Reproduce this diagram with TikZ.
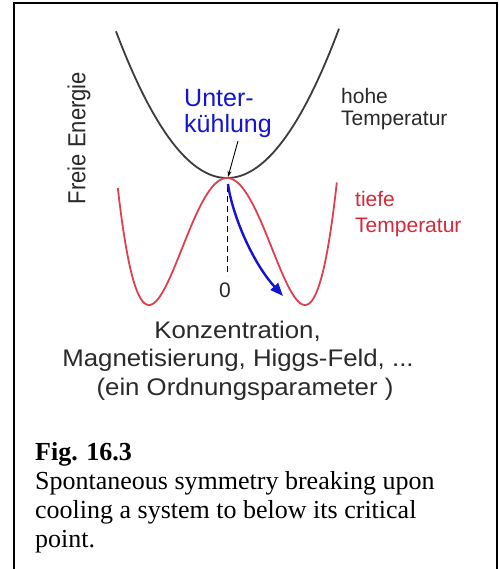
\documentclass[tikz,border=0pt]{standalone}
\usepackage{fontspec}
\setmainfont{Liberation Serif}
\newfontfamily\arial{Liberation Sans}
\usetikzlibrary{arrows.meta}
\definecolor{curvegray}{HTML}{3C3C3C}
\definecolor{textgray}{HTML}{2A2A2A}
\definecolor{curvered}{HTML}{E0404E}
\definecolor{textred}{HTML}{D42A3A}
\definecolor{myblue}{HTML}{1414D2}
\begin{document}
\begin{tikzpicture}[x=1pt,y=-1pt,
  lbl/.style={font=\arial\fontsize{21}{22}\selectfont, inner sep=0pt},
  axislbl/.style={font=\arial\fontsize{24}{26}\selectfont, inner sep=0pt, anchor=base, textgray, xscale=1.075, transform shape},
  captext/.style={font=\fontsize{26}{29}\selectfont, inner sep=0pt, anchor=base west}]
\useasboundingbox (0,0) rectangle (498,569);
\fill[white] (0,0) rectangle (498,569);
\draw[line width=2pt] (14,575) -- (14,3) -- (497,3) -- (497,575);
% curves
\draw[curvegray, line width=1.8pt] plot[domain=-111:112, samples=120, smooth] ({227+\x},{178-0.0119*\x*\x});
\draw[curvered, line width=1.8pt] plot[domain=-1.40:1.41, samples=150, smooth] ({227+78*\x},{305-127*(\x*\x-1)^2});
% coordinates
\coordinate (top) at (227,178);
\coordinate (arrS) at (238,141);
\coordinate (arrE) at (228,177);
\coordinate (bS) at (228,184);
\coordinate (bE) at (283,296);
\coordinate (dS) at (227,186);
\coordinate (dE) at (227,276);
% dashed zero line
\draw[black, line width=1pt, dash pattern=on 6pt off 4pt] (dS) -- (dE);
% arrows
\draw[black, line width=0.9pt, -{Stealth[length=6pt,width=4pt]}] (arrS) -- (arrE);
\draw[myblue, line width=2.4pt, -{Triangle[length=13pt,width=10pt]}] (bS) .. controls (232,214) and (252,262) .. (bE);
% labels
\node[lbl, textgray, rotate=90, yscale=1.12, transform shape, font=\arial\fontsize{22}{24}\selectfont] (fe) at (79,138) {Freie Energie};
\node[lbl, anchor=base west, myblue, font=\arial\fontsize{25}{26}\selectfont] (unter) at (184,107) {Unter-};
\node[lbl, anchor=base west, myblue, font=\arial\fontsize{25}{26}\selectfont] (kuehl) at (184,133) {kühlung};
\node[lbl, anchor=base west, textgray] (hohe) at (341,104) {hohe};
\node[lbl, anchor=base west, textgray] (hoheT) at (341,126) {Temperatur};
\node[lbl, anchor=base west, textred] (tiefe) at (355,206) {tiefe};
\node[lbl, anchor=base west, textred] (tiefeT) at (355,232) {Temperatur};
\node[lbl, anchor=base, textgray] (zero) at (225,297) {0};
\node[axislbl] (k1) at (237.5,338) {Konzentration,};
\node[axislbl] (k2) at (238,366) {Magnetisierung, Higgs-Feld, ...};
\node[axislbl] (k3) at (245,395) {(ein Ordnungsparameter )};
% caption
\node[captext, font=\bfseries\fontsize{26}{29}\selectfont] (fig) at (35,460) {Fig. 16.3};
\node[captext] (c1) at (35,489) {Spontaneous symmetry breaking upon};
\node[captext] (c2) at (35,518) {cooling a system to below its critical};
\node[captext] (c3) at (35,547) {point.};
\end{tikzpicture}
\end{document}
